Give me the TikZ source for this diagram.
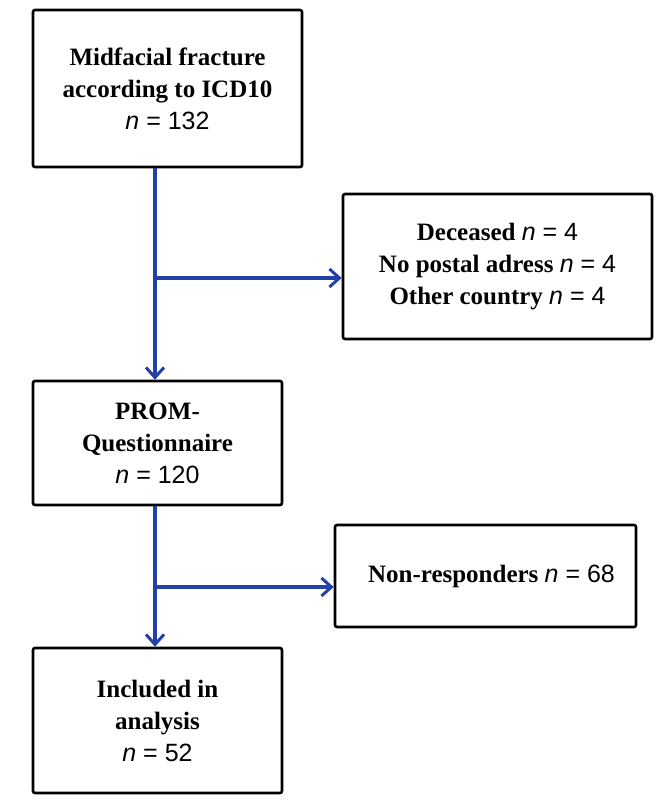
\documentclass[tikz,border=0pt]{standalone}
\usepackage{fontspec}
\setmainfont{Liberation Serif}
\newfontfamily\arialfont{Liberation Sans}
\usepackage{tikz}
\usetikzlibrary{arrows.meta,positioning,calc}
\definecolor{flowblue}{RGB}{34,64,165}
\newcommand{\nval}[1]{{\arialfont\mdseries\itshape n\upshape{} = #1}}
\tikzset{
  box/.style={draw=black, line width=2.6pt, rounded corners=2pt, align=center, inner sep=4pt, font=\bfseries\fontsize{25}{32}\selectfont},
  flowarrow/.style={-{Straight Barb[length=10pt,width=18pt,line width=3pt]}, draw=flowblue, line width=3.2pt},
  flowline/.style={draw=flowblue, line width=3.2pt}
}
\begin{document}
\begin{tikzpicture}[x=1pt,y=-1pt]
\useasboundingbox (0,0) rectangle (669,800);
\node[box, minimum width=269pt, minimum height=157pt] (fracture) at (167.5,88.5) {Midfacial fracture\\according to ICD10\\\nval{132}};
\node[box, minimum width=309pt, minimum height=145pt] (excluded) at (497.5,266.5) {Deceased \nval{4}\\No postal adress \nval{4}\\Other country \nval{4}};
\node[box, minimum width=249pt, minimum height=124pt] (prom) at (157.5,443) {PROM-\\Questionnaire\\\nval{120}};
\node[box, minimum width=301pt, minimum height=102pt] (nonresp) at (485.5,576) {\hspace{12pt}Non-responders \nval{68}};
\node[box, minimum width=249pt, minimum height=145pt] (included) at (157.5,720.5) {Included in\\analysis\\\nval{52}};
% junctions on the main line
\coordinate (j1) at (155,278);
\coordinate (j2) at (155,587);
\draw[flowarrow] (j1 |- fracture.south) -- (j1 |- prom.north);
\draw[flowarrow] (j1) -- (j1 -| excluded.west);
\draw[flowarrow] (j2 |- prom.south) -- (j2 |- included.north);
\draw[flowarrow] (j2) -- (j2 -| nonresp.west);
\end{tikzpicture}
\end{document}
